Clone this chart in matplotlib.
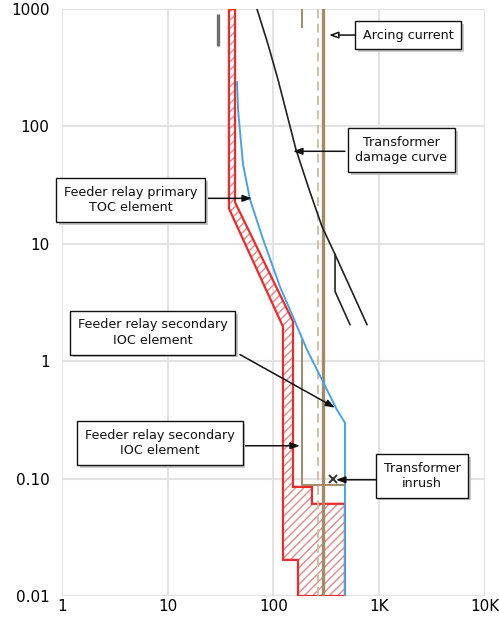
import numpy as np
import matplotlib
matplotlib.use("Agg")
import matplotlib.pyplot as plt
import matplotlib.patheffects as pe

# ---- data (current multiple vs. time in s) ----
x_ticks = [1, 10, 100, 1000, 10000]
x_tick_labels = ["1", "10", "100", "1K", "10K"]
y_ticks = [0.01, 0.1, 1, 10, 100, 1000]
y_tick_labels = ["0.01", "0.10", "1", "10", "100", "1000"]

# feeder relay primary TOC band + secondary IOC region (red hatched outline)
band_x = [37.9, 37.9, 123, 123, 170.5, 170.5, 474, 474, 231, 231, 153, 153, 43.3, 43.3]
band_y = [1000, 20.0, 1.97, 0.0203, 0.0203, 0.01, 0.01, 0.061, 0.061, 0.085, 0.085, 2.18, 22.6, 1000]

# blue relay curve
blue_x = [45.2, 46.2, 51.5, 60, 77.9, 115, 143, 207, 398, 474, 474]
blue_y = [238, 140, 47.5, 23.9, 11.6, 4.33, 2.75, 1.26, 0.386, 0.299, 0.01]

# transformer damage curve (main line + branch)
damage_x = [69.8, 88.7, 110, 134, 163, 217, 287, 382, 766]
damage_y = [1000, 502, 253, 127, 63.8, 29.1, 14.1, 8.13, 2.05]
branch_x = [382, 382, 529]
branch_y = [8.13, 3.93, 2.05]

# secondary relay (thin brown L)
sec_x = [186, 186, 474]
sec_y = [1.53, 0.0885, 0.0885]
sec_tick_x = [186, 186]
sec_tick_y = [1000, 700]

grey_x = [29.9, 29.9]
grey_y = [900, 480]

transformer_x = 294      # thick brown line
arcing_x = 264           # dashed arcing current
inrush_x, inrush_y = 365, 0.0995

# annotation boxes: text, centre, arrow start, arrow tip
labels = ["Arcing current", "Transformer\ndamage curve", "Feeder relay primary\nTOC element",
          "Feeder relay secondary\nIOC element", "Feeder relay secondary\nIOC element",
          "Transformer\ninrush"]
label_pos = [(1871, 600), (1623, 63.2), (4.44, 23.7), (7.25, 1.75), (8.45, 0.2018), (2537, 0.1057)]
arrow_from = [(616, 600), (474, 61.4), (24.0, 24.4), (48.2, 1.14), (51.5, 0.1905), (1039, 0.0977)]
arrow_to = [(335, 600), (153, 61.4), (62.6, 24.4), (382, 0.402), (178, 0.1905), (390, 0.0977)]

red = "#ee2a2a"
brown = "#a58a68"

fig = plt.figure(figsize=(4.99, 6.18), dpi=100)
ax = fig.add_axes([0.1242, 0.0356, 0.8477, 0.9498])
ax.set_xscale("log")
ax.set_yscale("log")
ax.set_xlim(1, 10000)
ax.set_ylim(0.01, 1000)

ax.set_xticks(x_ticks, x_tick_labels)
ax.set_yticks(y_ticks, y_tick_labels)
ax.minorticks_off()
ax.tick_params(length=0, labelsize=11)
ax.tick_params(axis="x", pad=2)
ax.tick_params(axis="y", pad=9)
for s in ax.spines.values():
    s.set_visible(False)
ax.grid(True, color="#e3e3e3", lw=1.5)
ax.set_axisbelow(True)

# hatched red band
ax.fill(band_x, band_y, facecolor="none", edgecolor="#e08a8a", hatch="////", lw=0, zorder=2)
ax.fill(band_x, band_y, facecolor="none", edgecolor=red, lw=1.6, zorder=3)

ax.plot(grey_x, grey_y, color="#6e6e6e", lw=2.4, solid_capstyle="butt", zorder=3)
ax.plot(sec_tick_x, sec_tick_y, color=brown, lw=1.4, zorder=3)
ax.plot(sec_x, sec_y, color=brown, lw=1.4, zorder=3)
ax.axvline(arcing_x, color="#cdbba3", lw=1.3, ls=(0, (5, 3)), zorder=3)
ax.axvline(transformer_x, color=brown, lw=2.4, zorder=3)

ax.plot(blue_x, blue_y, color="#45a3e6", lw=1.4, zorder=4)
ax.plot(damage_x, damage_y, color="#222222", lw=1.2, zorder=4)
ax.plot(branch_x, branch_y, color="#222222", lw=1.2, zorder=4)
ax.plot(inrush_x, inrush_y, marker="x", color="#333333", ms=6, mew=1.4, zorder=5)

# boxes with a soft shadow
for i, txt in enumerate(labels):
    t = ax.text(*label_pos[i], txt, ha="center", va="center", fontsize=9.2, color="#111111",
                linespacing=1.25, zorder=7,
                bbox=dict(boxstyle="square,pad=0.6", fc="white", ec="#111111", lw=1.0))
    t.get_bbox_patch().set_path_effects([
        pe.SimplePatchShadow(offset=(2, -2), shadow_rgbFace="#c8c8c8", alpha=1.0),
        pe.Normal()])
    fc = "white" if i == 0 else "#111111"
    ax.annotate("", xy=arrow_to[i], xytext=arrow_from[i], zorder=6,
                arrowprops=dict(arrowstyle="-|>,head_length=0.55,head_width=0.2",
                                fc=fc, ec="#111111", lw=1.1, shrinkA=0, shrinkB=0))

fig.savefig("out.png", dpi=100)
